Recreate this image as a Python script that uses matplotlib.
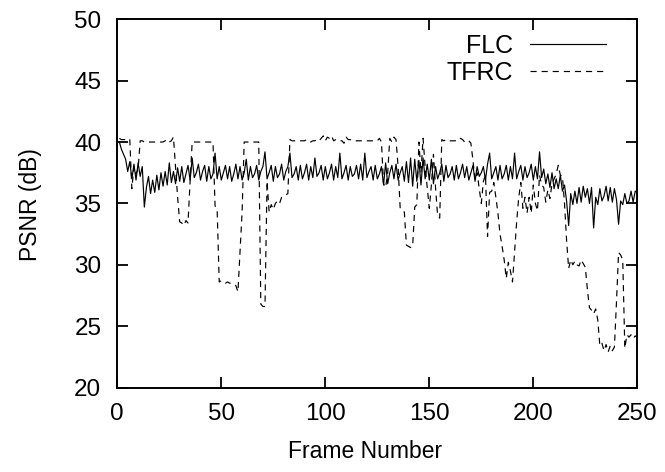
import matplotlib
matplotlib.use("Agg")
import matplotlib.pyplot as plt
import numpy as np

plt.rcParams['font.family'] = ['Liberation Sans', 'DejaVu Sans']

frames = list(range(1, 251))

flc_psnr = [
    40.0, 39.4, 39.0, 38.6, 37.6, 38.4, 37.0, 38.2, 36.9, 38.3,
    37.2, 38.0, 34.7, 36.3, 37.2, 35.8, 36.9, 35.9, 37.3, 36.1,
    37.5, 36.4, 37.6, 36.5, 38.3, 36.7, 37.6, 36.6, 37.9, 36.8,
    38.0, 36.7, 37.4, 38.1, 36.9, 38.7, 37.1, 37.5, 38.2, 36.9,
    37.6, 38.1, 36.8, 38.0, 37.0, 37.4, 39.1, 37.0, 38.0, 36.9,
    37.5, 38.1, 37.0, 38.0, 36.8, 37.4, 38.2, 37.0, 38.0, 36.9,
    37.5, 38.6, 36.9, 38.0, 37.1, 37.4, 38.1, 36.9, 37.6, 38.0,
    39.2, 37.0, 37.5, 38.1, 36.8, 38.0, 37.1, 37.4, 38.2, 36.9,
    37.6, 38.0, 39.1, 37.1, 37.4, 38.0, 36.9, 38.1, 37.0, 37.5,
    38.2, 36.9, 38.0, 37.1, 38.7, 37.2, 37.5, 38.1, 36.9, 38.0,
    37.0, 37.5, 38.2, 36.9, 38.0, 37.1, 39.1, 37.0, 37.5, 38.1,
    36.9, 38.0, 37.2, 37.4, 38.1, 37.0, 38.2, 36.9, 39.1, 37.1,
    37.6, 38.0, 36.9, 38.1, 37.0, 37.4, 38.0, 36.5, 38.3, 36.6,
    37.5, 38.1, 37.0, 38.2, 36.9, 37.5, 38.0, 36.8, 38.4, 36.7,
    38.7, 36.4, 38.6, 36.8, 38.5, 36.5, 38.7, 37.0, 38.2, 36.9,
    38.6, 36.6, 38.0, 37.0, 37.5, 38.2, 36.8, 38.1, 37.1, 37.4,
    38.0, 36.9, 38.1, 37.0, 37.5, 38.2, 37.1, 38.0, 36.9, 37.5,
    38.1, 36.8, 38.0, 37.2, 37.5, 38.0, 36.9, 38.2, 39.1, 37.0,
    37.5, 38.0, 36.9, 38.1, 37.0, 37.4, 38.1, 36.9, 38.0, 37.0,
    39.1, 37.0, 37.6, 38.1, 36.9, 38.0, 37.1, 37.5, 38.2, 36.9,
    38.0, 37.0, 39.2, 37.1, 37.8, 36.6, 37.4, 36.3, 37.5, 36.2,
    37.0, 36.2, 37.3, 36.0, 36.5, 35.2, 33.2, 35.8, 34.9, 36.0,
    35.0, 36.3, 35.1, 36.4, 35.5, 36.2, 35.0, 36.3, 33.0, 35.5,
    34.9, 36.2, 35.2, 35.6, 36.4, 35.2, 36.3, 35.1, 36.2, 35.3,
    33.3, 35.2, 34.9, 35.8, 35.0, 35.2, 36.0, 35.1, 36.0, 35.9,
]

tfrc_psnr = [
    40.3, 40.2, 40.2, 40.2, 40.3, 40.2, 36.2, 38.0, 37.4, 37.8,
    40.1, 40.1, 40.0, 40.0, 40.0, 40.0, 40.0, 40.0, 40.0, 40.0,
    40.0, 40.0, 40.1, 40.2, 40.0, 40.1, 40.4, 38.0, 35.5, 33.5,
    33.4, 33.2, 33.6, 33.4, 36.8, 40.0, 40.0, 40.0, 40.0, 40.0,
    40.0, 40.0, 40.0, 40.0, 40.0, 40.0, 34.8, 34.5, 28.6, 28.7,
    28.6, 28.5, 28.6, 28.5, 28.5, 28.4, 28.3, 27.8, 31.0, 34.3,
    40.0, 40.0, 40.0, 40.0, 40.0, 40.0, 40.0, 40.0, 26.8, 26.6,
    26.6, 36.8, 34.3, 34.9, 34.5, 35.0, 35.2, 35.0, 35.5, 35.6,
    35.7, 35.8, 40.2, 40.1, 40.1, 40.1, 40.1, 40.1, 40.1, 40.1,
    40.2, 40.1, 40.0, 40.1, 40.1, 40.2, 40.1, 40.3, 40.5, 40.1,
    40.4, 40.3, 40.5, 40.1, 40.2, 40.1, 40.1, 40.1, 39.9, 40.4,
    40.2, 40.2, 40.1, 40.1, 40.1, 40.1, 40.1, 40.1, 40.1, 40.1,
    40.1, 40.1, 40.1, 40.1, 40.1, 40.3, 40.0, 36.6, 36.3, 37.5,
    40.3, 40.0, 40.4, 40.2, 38.0, 34.6, 34.4, 34.3, 31.6, 31.5,
    31.4, 31.5, 34.7, 34.9, 40.0, 37.5, 40.3, 38.0, 36.3, 34.6,
    36.5, 39.0, 36.3, 34.0, 33.8, 40.2, 40.1, 40.2, 40.2, 40.1,
    40.1, 40.1, 40.1, 40.1, 40.3, 40.2, 40.0, 40.1, 40.1, 39.9,
    38.5, 36.9, 37.5, 36.2, 35.0, 36.8, 37.3, 32.3, 35.9, 36.0,
    36.7, 35.5, 34.2, 32.5, 31.5, 30.4, 28.9, 30.2, 29.5, 28.6,
    31.0, 33.5, 35.5, 36.7, 34.6, 35.5, 34.2, 35.5, 34.2, 36.5,
    35.0, 34.4, 37.3, 36.5, 36.3, 35.1, 36.1, 35.4, 36.6, 37.0,
    37.4, 38.1, 37.3, 37.2, 35.0, 32.0, 29.7, 30.4, 30.0, 30.3,
    30.0, 29.9, 30.4, 30.1, 29.8, 28.0, 26.5, 26.3, 26.0, 26.4,
    25.5, 23.4, 23.6, 23.0, 23.5, 22.9, 23.4, 23.0, 23.3, 27.0,
    31.0, 30.8, 30.4, 23.2, 24.3, 24.1, 24.3, 24.0, 24.2, 24.1,
]

x_ticks = [0, 50, 100, 150, 200, 250]
y_ticks = [20, 25, 30, 35, 40, 45, 50]

W, H = 665, 472
L, R, T, B = 117.3, 637.3, 19.3, 387.5

fig = plt.figure(figsize=(W / 100, H / 100), dpi=100)
ax = fig.add_axes([L / W, 1 - B / H, (R - L) / W, (B - T) / H])

ax.plot(frames, flc_psnr, color='black', lw=0.85, label='FLC')
ax.plot(frames, tfrc_psnr, color='black', lw=0.85, linestyle=(0, (5.2, 4.2)), label='TFRC')

ax.set_xlim(0, 250)
ax.set_ylim(20, 50)
ax.set_xticks(x_ticks)
ax.set_yticks(y_ticks)
ax.tick_params(direction='in', length=8, width=1.3, top=True, right=True,
               labelsize=17.5, pad=11.5)
ax.tick_params(axis='x', pad=11)
for s in ax.spines.values():
    s.set_linewidth(1.4)

fig.text(365 / W, 1 - 452 / H, 'Frame Number', fontsize=16.5, ha='center', va='center')
fig.text(31 / W, 1 - 205 / H, 'PSNR (dB)', fontsize=16.5, ha='center', va='center',
         rotation=90)

leg = ax.legend(loc='upper right', frameon=False, markerfirst=False, fontsize=18,
                handlelength=3.05, handletextpad=0.68, labelspacing=0.1,
                borderaxespad=0.0,
                bbox_to_anchor=((616 - L) / (R - L), 1 - (24 - T) / (B - T)))
for t in leg.get_texts():
    t.set_ha('right')

fig.savefig('out.png', dpi=100)
